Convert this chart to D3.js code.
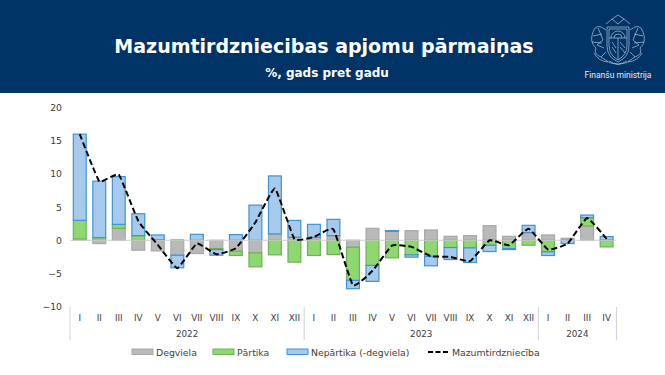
<!DOCTYPE html>
<html>
<head>
<meta charset="utf-8">
<script src="https://cdn.jsdelivr.net/npm/d3@7"></script>
<style>
html, body { margin: 0; padding: 0; background: #fff; }
svg { display: block; }
text { font-family: "DejaVu Sans", Verdana, sans-serif; }
</style>
</head>
<body>
<div id="chart"></div>
<script>
"use strict";

var months = ["I","II","III","IV","V","VI","VII","VIII","IX","X","XI","XII",
	"I","II","III","IV","V","VI","VII","VIII","IX","X","XI","XII",
	"I","II","III","IV"];
var years = [["2022", 0, 11], ["2023", 12, 23], ["2024", 24, 27]];
var yTicks = [20, 15, 10, 5, 0, -5, -10];

var degviela = [0.2,-0.5,1.8,-1.5,-1.6,-2.25,-2,-1.25,-1.65,-1.9,0.95,0.45,
	0.45,0.7,-1.05,1.8,1.35,1.45,1.55,0.6,0.7,2.2,0.6,1.15,
	0.8,0.3,2.15,0.05];
var partika = [2.8,0.4,0.6,0.7,0.1,0.05,0,-0.15,-0.65,-2.1,-2.2,-3.3,
	-2.3,-2.15,-5,-3.8,-2.65,-2.2,-2.45,-1.1,-1.15,-0.75,-1.25,-0.75,
	-1.75,0,1.25,-1];
var nepartika = [13,8.5,7.2,3.3,0.7,-1.9,0.9,-0.85,0.85,5.3,8.75,2.55,
	1.95,2.45,-1.25,-2.4,0.1,-0.35,-1.4,-1.8,-2.2,-0.95,-0.15,1.1,
	-0.55,-0.5,0.4,0.5];
var kopa = [16,8.9,9.9,2.9,-0.7,-4.2,-0.5,-2.1,-1.2,2.7,7.8,0.2,
	0.5,1.65,-6.8,-4.6,-0.8,-1,-2.4,-2.5,-3.15,0,-0.75,1.75,
	-1.4,-0.5,3.35,0.2];

var seriesNames = ["Degviela", "Pārtika", "Nepārtika (-degviela)", "Mazumtirdzniecība"];
var fills = ["#b9b9b9", "#8dd870", "#a6caec"];
var strokes = ["#a8a8a8", "#6fb256", "#3f92d6"];

var width = 665, height = 375;

var svg = d3.select("#chart").append("svg")
	.attr("width", width)
	.attr("height", height);

// header band
svg.append("rect").attr("width", width).attr("height", 93).attr("fill", "#003366");

svg.append("text")
	.attr("x", 324).attr("y", 53)
	.attr("text-anchor", "middle")
	.attr("fill", "#fff")
	.style("font-size", "19px")
	.style("font-weight", "bold")
	.text("Mazumtirdzniecibas apjomu pārmaiņas");

svg.append("text")
	.attr("x", 327).attr("y", 77)
	.attr("text-anchor", "middle")
	.attr("fill", "#fff")
	.style("font-size", "12px")
	.style("font-weight", "bold")
	.text("%, gads pret gadu");

svg.append("text")
	.attr("x", 618).attr("y", 78)
	.attr("text-anchor", "middle")
	.attr("fill", "#e6ecf3")
	.style("font-family", "Roboto, sans-serif")
	.style("font-size", "8.5px")
	.text("Finanšu ministrija");

// coat of arms, only a rough outline
var logo = svg.append("g")
	.attr("transform", "translate(618,40)")
	.attr("fill", "none")
	.attr("stroke", "#b4c4d8")
	.attr("stroke-width", 0.7);
logo.append("path").attr("d", "M-11,-13 H11 V6 Q11,17 0,22 Q-11,17 -11,6 Z");
logo.append("path").attr("d", "M-9,-11 H9 V5 Q9,15 0,20 Q-9,15 -9,5 Z");
logo.append("path").attr("d", "M-9,-2 H9 M0,-2 V20");
logo.append("path").attr("d", "M-7,-2 A7,7 0 0 1 7,-2 M-4,-2 A4,4 0 0 1 4,-2");
logo.append("path").attr("d", "M-6,2 L-2,8 M-6,7 L-2,13 M2,2 L7,8 M2,7 L7,13");
logo.append("path").attr("d", "M-12,-10 Q-22,-18 -25,-8 Q-29,2 -22,8 Q-25,14 -17,17 L-12,12");
logo.append("path").attr("d", "M12,-10 Q22,-18 25,-8 Q29,2 22,8 Q25,14 17,17 L12,12");
logo.append("path").attr("d", "M-20,-12 L-15,0 L-21,5 L-14,8 M20,-12 L15,0 L21,5 L14,8");
logo.append("path").attr("d", "M-25,-4 L-16,-6 M-26,2 L-16,3 M25,-4 L16,-6 M26,2 L16,3");
logo.append("path").attr("d", "M-24,13 Q-20,21 -10,22 M24,13 Q20,21 10,22");
logo.append("path").attr("d", "M-17,17 Q0,32 17,17 M-9,21 Q0,27 9,21");
logo.append("path").attr("d", "M-12,-16 L-6,-21 L0,-25 L6,-21 L12,-16 M-6,-21 L0,-16 L6,-21");

// scales
var x = d3.scaleBand()
	.domain(d3.range(months.length))
	.range([70, 616.4])
	.paddingInner(0.29)
	.paddingOuter(0.145);

var y = d3.scaleLinear()
	.domain([-10, 20])
	.range([306.6, 107.6]);

// y labels
var yAxis = d3.axisLeft(y).tickValues(yTicks).tickSize(0).tickPadding(8);
var yG = svg.append("g")
	.attr("transform", "translate(70,0)")
	.call(yAxis);
yG.select(".domain").remove();
yG.selectAll("text")
	.attr("fill", "#404040")
	.style("font-size", "9.3px")
	.style("font-family", "\"DejaVu Sans\", sans-serif");

// stack the series the way the spreadsheet does: up and down separately
var seriesList = [degviela, partika, nepartika];
var rows = months.map(function(m, i) {
	return {i: i, v: seriesList.map(function(s) { return s[i]; })};
});

var bars = svg.append("g");
rows.forEach(function(row) {
	var up = 0, down = 0;
	row.v.forEach(function(val, k) {
		if (val === 0) {
			return;
		}
		var from = val > 0 ? up : down;
		var to = from + val;
		if (val > 0) { up = to; } else { down = to; }
		bars.append("rect")
			.attr("x", x(row.i) + 0.5)
			.attr("width", x.bandwidth() - 1)
			.attr("y", y(Math.max(from, to)))
			.attr("height", Math.abs(y(from) - y(to)))
			.attr("fill", fills[k])
			.attr("stroke", strokes[k])
			.attr("stroke-width", 1.2);
	});
});

// zero line, spreadsheet draws it over the bars
svg.append("line")
	.attr("x1", 70).attr("x2", 616.4)
	.attr("y1", y(0)).attr("y2", y(0))
	.attr("stroke", "#d0d0d0")
	.attr("stroke-width", 1);

// dashed total
var line = d3.line()
	.x(function(d, i) { return x(i) + x.bandwidth() / 2; })
	.y(function(d) { return y(d); })
	.curve(d3.curveCardinal.tension(0.65));

svg.append("path")
	.datum(kopa)
	.attr("d", line)
	.attr("fill", "none")
	.attr("stroke", "#000")
	.attr("stroke-width", 2)
	.attr("stroke-dasharray", "6,3");

// month labels and year separators
var labels = svg.append("g");
months.forEach(function(m, i) {
	labels.append("text")
		.attr("x", x(i) + x.bandwidth() / 2)
		.attr("y", 321)
		.attr("text-anchor", "middle")
		.attr("fill", "#404040")
		.style("font-size", "8.8px")
		.text(m);
});

var step = x.step();
var left = function(i) { return x(i) - (step - x.bandwidth()) / 2; };
years.forEach(function(yr, n) {
	var x0 = left(yr[1]);
	var x1 = left(yr[2]) + step;
	labels.append("text")
		.attr("x", (x0 + x1) / 2)
		.attr("y", 337)
		.attr("text-anchor", "middle")
		.attr("fill", "#404040")
		.style("font-size", "8.8px")
		.text(yr[0]);
	labels.append("line")
		.attr("x1", x0).attr("x2", x0)
		.attr("y1", 307).attr("y2", 340)
		.attr("stroke", "#d0d0d0");
	if (n === years.length - 1) {
		labels.append("line")
			.attr("x1", x1).attr("x2", x1)
			.attr("y1", 307).attr("y2", 340)
			.attr("stroke", "#d0d0d0");
	}
});

// legend
var legendX = [132, 213, 287, 428];
var legend = svg.append("g");
seriesNames.forEach(function(name, k) {
	if (k < 3) {
		legend.append("rect")
			.attr("x", legendX[k]).attr("y", 349)
			.attr("width", 21).attr("height", 5.5)
			.attr("fill", fills[k])
			.attr("stroke", strokes[k]);
	} else {
		legend.append("line")
			.attr("x1", legendX[k]).attr("x2", legendX[k] + 21)
			.attr("y1", 352).attr("y2", 352)
			.attr("stroke", "#000")
			.attr("stroke-width", 2)
			.attr("stroke-dasharray", "5,2.5");
	}
	legend.append("text")
		.attr("x", legendX[k] + 24)
		.attr("y", 355.5)
		.attr("fill", "#404040")
		.style("font-size", "9.3px")
		.text(name);
});
</script>
</body>
</html>
